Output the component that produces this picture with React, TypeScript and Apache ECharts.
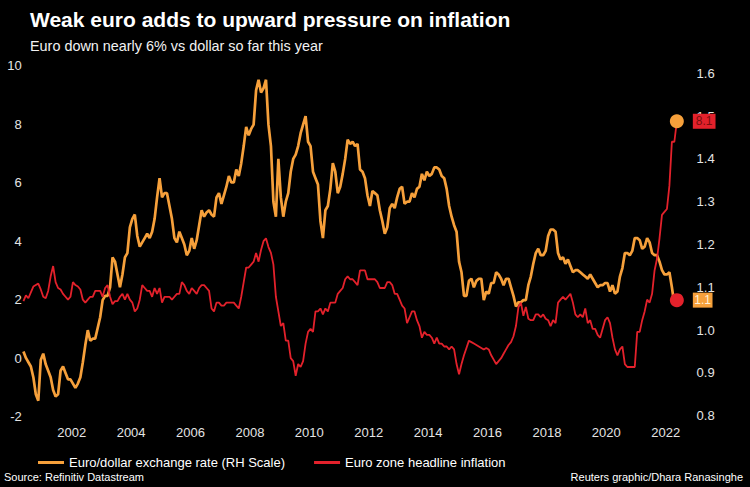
import React, { useEffect, useRef } from "react";
import * as echarts from "echarts";

// Monthly series, first value = May 2000, last value = May 2022
const START_YEAR = 2000;
const START_MONTH = 5;

// Euro zone headline inflation (%, left scale)
const inflation: number[] = [
  /*2000*/ 1.95, 2.15, 2.05, 2.25, 2.45, 2.5, 2.55, 2.35,
  /*2001*/ 2.1, 2.05, 2.3, 2.8, 3.15, 2.6, 2.4, 2.35, 2.2, 2.1, 2.0, 2.1,
  /*2002*/ 2.6, 2.5, 2.45, 2.35, 2.0, 1.9, 2.0, 2.1, 2.1, 2.3, 2.3, 2.3,
  /*2003*/ 2.1, 2.4, 2.5, 2.1, 1.85, 1.95, 1.95, 2.1, 2.2, 2.0, 2.2, 2.0,
  /*2004*/ 1.9, 1.6, 1.7, 2.0, 2.5, 2.4, 2.3, 2.3, 2.1, 2.4, 2.2, 2.4,
  /*2005*/ 1.9, 2.1, 2.1, 2.1, 2.0, 2.1, 2.2, 2.2, 2.6, 2.5, 2.3, 2.2,
  /*2006*/ 2.4, 2.3, 2.2, 2.4, 2.5, 2.5, 2.4, 2.3, 1.7, 1.6, 1.9, 1.9,
  /*2007*/ 1.8, 1.8, 1.9, 1.9, 1.9, 1.9, 1.8, 1.7, 2.1, 2.6, 3.1, 3.1,
  /*2008*/ 3.2, 3.3, 3.6, 3.3, 3.7, 4.0, 4.1, 3.8, 3.6, 3.2, 2.1, 1.6,
  /*2009*/ 1.1, 1.2, 0.6, 0.6, 0.0, -0.1, -0.6, -0.2, -0.3, -0.1, 0.5, 0.9,
  /*2010*/ 1.0, 0.9, 1.6, 1.6, 1.7, 1.5, 1.7, 1.6, 1.9, 1.9, 1.9, 2.2,
  /*2011*/ 2.3, 2.4, 2.7, 2.8, 2.7, 2.7, 2.6, 2.5, 3.0, 3.0, 3.0, 2.7,
  /*2012*/ 2.7, 2.7, 2.7, 2.6, 2.4, 2.4, 2.4, 2.6, 2.6, 2.5, 2.2, 2.2,
  /*2013*/ 2.0, 1.8, 1.7, 1.2, 1.4, 1.6, 1.6, 1.3, 1.1, 0.7, 0.9, 0.8,
  /*2014*/ 0.8, 0.7, 0.5, 0.7, 0.5, 0.5, 0.4, 0.4, 0.3, 0.4, 0.3, -0.2,
  /*2015*/ -0.55, -0.2, 0.1, 0.35, 0.6, 0.55, 0.5, 0.45, 0.4, 0.35, 0.3, 0.35,
  /*2016*/ 0.3, 0.1, -0.05, -0.2, -0.1, 0.0, 0.15, 0.3, 0.45, 0.55, 0.75, 1.1,
  /*2017*/ 1.75, 1.9, 1.45, 1.75, 1.35, 1.3, 1.3, 1.5, 1.5, 1.4, 1.5, 1.35,
  /*2018*/ 1.3, 1.1, 1.3, 1.2, 1.9, 2.0, 2.1, 2.0, 2.1, 2.2, 1.9, 1.5,
  /*2019*/ 1.4, 1.5, 1.4, 1.7, 1.2, 1.3, 1.0, 1.0, 0.8, 0.7, 1.0, 1.3,
  /*2020*/ 1.4, 1.2, 0.7, 0.3, 0.1, 0.3, 0.4, -0.2, -0.3, -0.3, -0.3, -0.3,
  /*2021*/ 0.9, 0.9, 1.3, 1.6, 2.0, 1.9, 2.2, 3.0, 3.4, 4.1, 4.9, 5.0,
  /*2022*/ 5.1, 5.9, 7.4, 7.4, 8.1,
];

// Euro/dollar exchange rate (right scale)
const eurusd: number[] = [
  /*2000*/ 0.95, 0.935, 0.925, 0.915, 0.89, 0.85, 0.835, 0.93,
  /*2001*/ 0.945, 0.92, 0.905, 0.89, 0.86, 0.845, 0.85, 0.905, 0.915, 0.9, 0.885, 0.885,
  /*2002*/ 0.875, 0.865, 0.875, 0.89, 0.925, 0.965, 1.0, 0.975, 0.98, 0.98, 1.005, 1.03,
  /*2003*/ 1.07, 1.08, 1.08, 1.1, 1.17, 1.16, 1.13, 1.1, 1.13, 1.17, 1.18, 1.24,
  /*2004*/ 1.26, 1.27, 1.22, 1.195, 1.205, 1.215, 1.225, 1.215, 1.23, 1.26, 1.31, 1.355,
  /*2005*/ 1.31, 1.32, 1.32, 1.29, 1.26, 1.215, 1.205, 1.23, 1.215, 1.2, 1.175, 1.185,
  /*2006*/ 1.215, 1.19, 1.21, 1.245, 1.28, 1.265, 1.275, 1.28, 1.27, 1.265, 1.31, 1.32,
  /*2007*/ 1.295, 1.315, 1.335, 1.36, 1.345, 1.345, 1.375, 1.36, 1.39, 1.43, 1.475, 1.455,
  /*2008*/ 1.47, 1.48, 1.56, 1.585, 1.555, 1.565, 1.585, 1.48, 1.43, 1.3, 1.265, 1.4,
  /*2009*/ 1.31, 1.265, 1.3, 1.32, 1.37, 1.4, 1.41, 1.43, 1.46, 1.48, 1.5, 1.44,
  /*2010*/ 1.43, 1.37, 1.355, 1.34, 1.255, 1.215, 1.28, 1.29, 1.33, 1.39, 1.37, 1.32,
  /*2011*/ 1.335, 1.365, 1.4, 1.445, 1.435, 1.44, 1.43, 1.435, 1.375, 1.37, 1.355, 1.315,
  /*2012*/ 1.29, 1.325, 1.32, 1.315, 1.28, 1.255, 1.225, 1.24, 1.285, 1.295, 1.285, 1.31,
  /*2013*/ 1.33, 1.335, 1.295, 1.3, 1.3, 1.32, 1.31, 1.33, 1.335, 1.365, 1.35, 1.37,
  /*2014*/ 1.36, 1.365, 1.38, 1.38, 1.375, 1.36, 1.355, 1.33, 1.29, 1.265, 1.245, 1.23,
  /*2015*/ 1.16, 1.135, 1.08, 1.08, 1.115, 1.12, 1.1, 1.115, 1.12, 1.12, 1.07, 1.09,
  /*2016*/ 1.085, 1.11, 1.11, 1.135, 1.13, 1.12, 1.105, 1.12, 1.12, 1.1, 1.08, 1.055,
  /*2017*/ 1.065, 1.065, 1.07, 1.07, 1.105, 1.125, 1.155, 1.18, 1.19, 1.175, 1.175, 1.185,
  /*2018*/ 1.22, 1.235, 1.235, 1.23, 1.18, 1.165, 1.17, 1.155, 1.165, 1.15, 1.135, 1.14,
  /*2019*/ 1.14, 1.135, 1.13, 1.125, 1.12, 1.13, 1.12, 1.11, 1.1, 1.105, 1.105, 1.11,
  /*2020*/ 1.11, 1.09, 1.105, 1.085, 1.09, 1.125, 1.145, 1.18, 1.18, 1.175, 1.185, 1.215,
  /*2021*/ 1.215, 1.21, 1.19, 1.195, 1.215, 1.205, 1.18, 1.175, 1.175, 1.16, 1.14, 1.13,
  /*2022*/ 1.13, 1.135, 1.1, 1.06, 1.07,
];

const xTickYears = [2002, 2004, 2006, 2008, 2010, 2012, 2014, 2016, 2018, 2020, 2022];
const leftTicks = [-2, 0, 2, 4, 6, 8, 10];
const rightTicks = [0.8, 0.9, 1.0, 1.1, 1.2, 1.3, 1.4, 1.5, 1.6];

const TITLE = "Weak euro adds to upward pressure on inflation";
const SUBTITLE = "Euro down nearly 6% vs dollar so far this year";
const NAME_FX = "Euro/dollar exchange rate (RH Scale)";
const NAME_INF = "Euro zone headline inflation";
const SOURCE = "Source: Refinitiv Datastream";
const CREDIT = "Reuters graphic/Dhara Ranasinghe";

const ORANGE = "#f6a03b";
const RED = "#e3212b";
const FONT = "'Liberation Sans', Arial, sans-serif";
const LABEL_COLOR = "#e4e4e4";

// decimal-year position of the i-th month (mid-month)
function monthPos(i: number): number {
  const m = START_MONTH - 1 + i;
  return START_YEAR + Math.floor(m / 12) + ((m % 12) + 0.5) / 12;
}

const inflationData = inflation.map((v, i) => [monthPos(i), v]);
const eurusdData = eurusd.map((v, i) => [monthPos(i), v]);
const lastInf = inflationData[inflationData.length - 1];
const lastFx = eurusdData[eurusdData.length - 1];

const X_MIN = 2000;
const X_MAX = 2022.5;
const GRID_LEFT = 12.3;
const GRID_WIDTH = 668.25;

export default function App() {
  const ref = useRef<HTMLDivElement>(null);

  useEffect(() => {
    document.body.style.margin = "0";
    document.body.style.background = "#000";
    if (!ref.current) return;
    const chart = echarts.init(ref.current, null, { renderer: "svg" });

    const xAxisBase = {
      type: "value" as const,
      min: X_MIN,
      max: X_MAX,
      interval: 2,
      axisLine: { show: false },
      axisTick: { show: false },
      splitLine: { show: false },
    };

    chart.setOption({
      animation: false,
      backgroundColor: "#000",
      title: [
        {
          text: TITLE,
          left: 25,
          top: 4,
          textStyle: { color: "#ffffff", fontSize: 21, fontWeight: "bold", fontFamily: FONT },
        },
        {
          text: SUBTITLE,
          left: 25,
          top: 33.5,
          textStyle: { color: "#f2f2f2", fontSize: 14.4, fontWeight: "normal", fontFamily: FONT },
        },
      ],
      legend: {
        data: [NAME_FX, NAME_INF],
        left: 33,
        top: 451,
        icon: "rect",
        itemWidth: 26,
        itemHeight: 3,
        itemGap: 29,
        selectedMode: false,
        textStyle: { color: "#ffffff", fontSize: 13, fontFamily: FONT },
      },
      grid: [
        { left: GRID_LEFT, width: GRID_WIDTH, top: 65.7, height: 351 },
        { left: GRID_LEFT, width: GRID_WIDTH, top: 73.3, height: 342.4 },
      ],
      xAxis: [
        {
          ...xAxisBase,
          gridIndex: 0,
          axisLabel: {
            color: LABEL_COLOR,
            fontSize: 13,
            fontFamily: FONT,
            margin: 9,
            formatter: (v: number) => (xTickYears.includes(v) ? String(v) : ""),
          },
        },
        { ...xAxisBase, gridIndex: 1, show: false },
      ],
      yAxis: [
        {
          type: "value",
          gridIndex: 0,
          position: "left",
          min: leftTicks[0],
          max: leftTicks[leftTicks.length - 1],
          interval: 2,
          offset: -9.5,
          axisLine: { show: false },
          axisTick: { show: false },
          splitLine: { show: false },
          axisLabel: { color: LABEL_COLOR, fontSize: 13, fontFamily: FONT, margin: 0 },
        },
        {
          type: "value",
          gridIndex: 1,
          position: "right",
          min: rightTicks[0],
          max: rightTicks[rightTicks.length - 1],
          interval: 0.1,
          axisLine: { show: false },
          axisTick: { show: false },
          splitLine: { show: false },
          axisLabel: {
            color: LABEL_COLOR,
            fontSize: 13,
            fontFamily: FONT,
            margin: 16,
            formatter: (v: number) => v.toFixed(1),
          },
        },
      ],
      series: [
        {
          name: NAME_FX,
          type: "line",
          xAxisIndex: 1,
          yAxisIndex: 1,
          data: eurusdData,
          showSymbol: false,
          z: 2,
          emphasis: { disabled: true },
          lineStyle: { color: ORANGE, width: 2.7 },
          itemStyle: { color: ORANGE },
          endLabel: {
            show: true,
            distance: 16,
            formatter: (p: any) => Number(p.value[1]).toFixed(1),
            backgroundColor: ORANGE,
            color: "#fff1d8",
            fontSize: 12,
            fontFamily: FONT,
            padding: [2, 1.5, 1, 1.5],
          },
          markPoint: {
            silent: true,
            symbol: "circle",
            symbolSize: 14,
            itemStyle: { color: RED },
            label: { show: false },
            data: [{ coord: lastFx }],
          },
        },
        {
          name: NAME_INF,
          type: "line",
          xAxisIndex: 0,
          yAxisIndex: 0,
          data: inflationData,
          showSymbol: false,
          z: 3,
          emphasis: { disabled: true },
          lineStyle: { color: RED, width: 1.8 },
          itemStyle: { color: RED },
          endLabel: {
            show: true,
            distance: 16,
            formatter: (p: any) => Number(p.value[1]).toFixed(1),
            backgroundColor: RED,
            color: "#7a0d0d",
            fontSize: 12,
            fontFamily: FONT,
            padding: [2, 3, 1, 3],
          },
          markPoint: {
            silent: true,
            symbol: "circle",
            symbolSize: 14,
            itemStyle: { color: ORANGE },
            label: { show: false },
            data: [{ coord: lastInf }],
          },
        },
      ],
      graphic: [
        {
          type: "text",
          left: 4,
          top: 471,
          style: { text: SOURCE, fill: "#ffffff", fontSize: 11, fontFamily: FONT },
        },
        {
          type: "text",
          right: 7,
          top: 471,
          style: { text: CREDIT, fill: "#ffffff", fontSize: 11, fontFamily: FONT },
        },
      ],
    });

    return () => chart.dispose();
  }, []);

  return <div ref={ref} style={{ width: 750, height: 487, background: "#000" }} />;
}
